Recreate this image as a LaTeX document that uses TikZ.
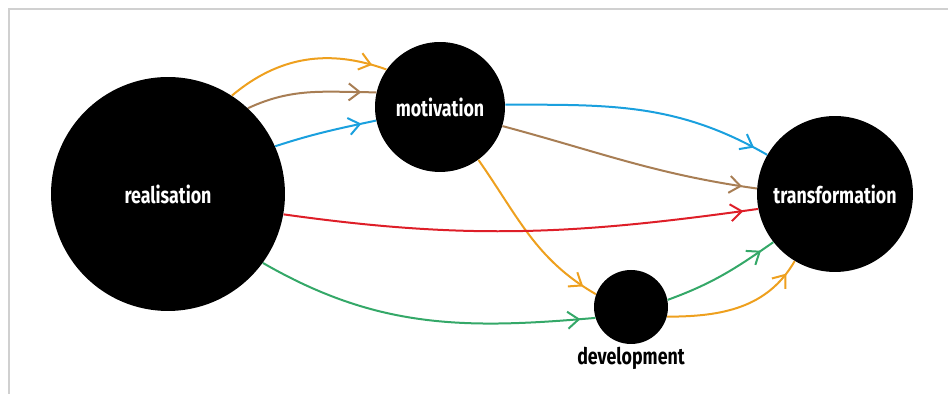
\documentclass[tikz,border=0pt]{standalone}
\usepackage{fontspec}
\newfontfamily\labelfont[FakeStretch=0.78]{Fira Sans}
\usetikzlibrary{arrows.meta, decorations.markings}
\definecolor{flowor}{RGB}{238, 160, 30}
\definecolor{flowbr}{RGB}{168, 126, 84}
\definecolor{flowbl}{RGB}{26, 160, 222}
\definecolor{flowred}{RGB}{222, 30, 40}
\definecolor{flowgr}{RGB}{52, 168, 104}
\definecolor{framegray}{RGB}{208, 208, 208}

\begin{document}
\begin{tikzpicture}[x=0.02cm, y=0.02cm]%
        \tikzstyle{blob} = [circle, fill=black, text=white, inner sep=0pt, font=\labelfont\bfseries\fontsize{13}{15}\selectfont]
        \tikzstyle{flow} = [line width=0.04cm, postaction={decorate},
          decoration={markings, mark=at position -0.3cm with {\arrow{Straight Barb[length=0.22cm, width=0.34cm]}}}]

        \useasboundingbox (0,0) rectangle (948,394);
        \draw[framegray, line width=0.04cm] (9,0) -- (9,385) -- (948,385);

        \node[blob, minimum size=4.68cm] (real) at (168,200) {realisation};
        \node[blob, minimum size=2.6cm] (moti) at (440,287) {motivation};
        \node[blob, minimum size=3.12cm] (trans) at (835,200) {transformation};
        \node[blob, minimum size=1.48cm] (dev) at (631,87) {};
        \node[font=\labelfont\bfseries\fontsize{13}{15}\selectfont] (devlabel) at (631,36) {development};

        \draw[flow, flowor] (real.57) to[out=40, in=160] (moti.145);
        \draw[flow, flowbr] (real.47) to[out=25, in=180] (moti.167);
        \draw[flow, flowbl] (real.24) to[out=18, in=192] (moti.192);
        \draw[flow, flowbl] (moti.2) to[out=0, in=150] (trans.150);
        \draw[flow, flowbr] (moti.-17) to[out=-15, in=172] (trans.176);
        \draw[flow, flowor] (moti.-54) to[out=-55, in=150] (dev.160);
        \draw[flow, flowred] (real.-10) to[out=-8, in=-172] (trans.-169);
        \draw[flow, flowgr] (real.-36) to[out=-30, in=-175] (dev.-163);
        \draw[flow, flowgr] (dev.11) to[out=20, in=-145] (trans.-142);
        \draw[flow, flowor] (dev.-15) to[out=0, in=-120] (trans.-121);
      \end{tikzpicture}
\end{document}
